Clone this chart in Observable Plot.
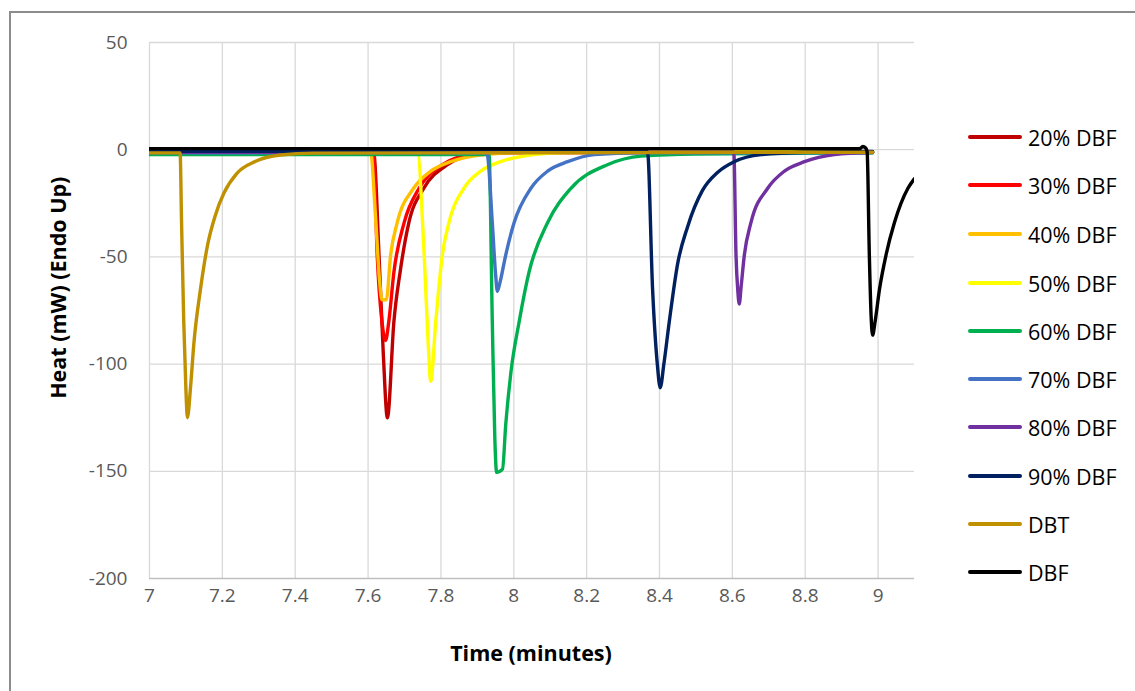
<!DOCTYPE html>
<html>
<head>
<meta charset="utf-8">
<script src="https://cdn.jsdelivr.net/npm/d3@7"></script>
<script src="https://cdn.jsdelivr.net/npm/@observablehq/plot@0.6"></script>
<style>
  html, body { margin: 0; padding: 0; background: #fff; }
  #wrap { position: relative; width: 1135px; height: 691px; overflow: hidden; font-family: "Open Sans", Lato, sans-serif; }
  #frame { position: absolute; left: 9px; top: 11px; width: 1200px; height: 800px; border-left: 2px solid #8c8c8c; border-top: 2px solid #8c8c8c; box-sizing: border-box; pointer-events: none; }
  #legend { position: absolute; left: 968px; top: 0; }
  .li { position: absolute; left: 0; display: flex; align-items: center; white-space: nowrap; font-size: 21.5px; color: #000; }
  .li span.sw { display: inline-block; width: 54px; height: 3.5px; border-radius: 2px; margin-right: 6px; }
  .axt { position: absolute; font-weight: bold; font-size: 21.5px; color: #000; white-space: nowrap; line-height: 1; }
</style>
</head>
<body>
<div id="wrap">
  <div id="chart"></div>
  <div id="frame"></div>
  <div id="legend"></div>
  <div class="axt" id="xt">Time (minutes)</div>
  <div class="axt" id="yt">Heat (mW) (Endo Up)</div>
</div>
<script>
// ---- data ----
const seriesNames = ["20% DBF", "30% DBF", "40% DBF", "50% DBF", "60% DBF", "70% DBF", "80% DBF", "90% DBF", "DBT", "DBF"];
const seriesColors = ["#C00000", "#FF0000", "#FFC000", "#FFFF00", "#00B050", "#4472C4", "#7030A0", "#002060", "#BF9000", "#000000"];

const t20 = [7.00, 7.615, 7.63, 7.642, 7.653, 7.671, 7.688, 7.712, 7.753, 7.818, 7.89, 8.00, 8.985];
const v20 = [-1.2, -1.2, -49, -96, -125, -80, -57, -34, -18, -7, -2.3, -1.3, -1.2];

const t30 = [7.00, 7.615, 7.625, 7.638, 7.648, 7.657, 7.671, 7.699, 7.74, 7.804, 7.882, 8.00, 8.985];
const v30 = [-1.3, -1.3, -49, -80, -89, -80, -57, -34, -18, -7, -2.3, -1.3, -1.3];

const t40 = [7.00, 7.607, 7.62, 7.632, 7.638, 7.65, 7.662, 7.68, 7.725, 7.772, 7.827, 7.918, 8.05, 8.985];
const v40 = [-1.0, -1.0, -30, -62, -70, -70, -49, -34, -18, -10, -5.6, -2.3, -1.2, -1.0];

const t50 = [7.00, 7.735, 7.754, 7.765, 7.772, 7.786, 7.804, 7.822, 7.863, 7.909, 7.964, 8.055, 8.15, 8.985];
const v50 = [-1.0, -1.0, -49, -90, -108, -80, -49, -34, -18, -10, -5.6, -2.3, -1.3, -1.0];

const t60 = [7.00, 7.932, 7.941, 7.948, 7.953, 7.969, 7.978, 7.992, 8.015, 8.042, 8.093, 8.157, 8.257, 8.35, 8.50, 8.985];
const v60 = [-2.3, -2.3, -80, -135, -150.5, -149, -128, -104, -80, -57, -34, -18, -7, -3, -2, -1.5];

const t70 = [7.00, 7.926, 7.941, 7.95, 7.955, 7.962, 7.978, 8.001, 8.047, 8.093, 8.148, 8.221, 8.35, 8.985];
const v70 = [-1.5, -1.5, -34, -58, -66, -62, -49, -34, -18, -10, -5.6, -2.3, -1.5, -1.3];

const t80 = [7.00, 8.604, 8.61, 8.615, 8.619, 8.624, 8.633, 8.651, 8.697, 8.743, 8.798, 8.88, 8.985];
const v80 = [-1.2, -1.2, -49, -66, -72, -64, -49, -34, -18, -10, -5.6, -2.3, -1.2];

const t90 = [7.00, 8.367, 8.381, 8.394, 8.402, 8.412, 8.427, 8.45, 8.477, 8.518, 8.56, 8.605, 8.679, 8.80, 8.985];
const v90 = [-0.8, -0.8, -65, -100, -111, -100, -80, -53, -36, -19, -10.5, -5.6, -2.3, -1.2, -0.8];

const tDBT = [7.00, 7.084, 7.088, 7.094, 7.100, 7.104, 7.113, 7.122, 7.14, 7.16, 7.18, 7.205, 7.24, 7.29, 7.36, 7.45, 8.985];
const vDBT = [-1.5, -1.5, -34, -80, -112, -125, -110, -90, -65, -44, -31, -20, -11, -5.5, -2.5, -1.6, -1.2];

const tDBF = [7.00, 8.95, 8.958, 8.966, 8.97, 8.976, 8.981, 8.985, 8.992, 9.004, 9.022, 9.045, 9.082, 9.10];
const vDBF = [0.5, 0.5, 1.5, 0.8, -1, -49, -78, -86.5, -80, -65, -49, -34, -18, -13.5];

const xTicks = [7, 7.2, 7.4, 7.6, 7.8, 8, 8.2, 8.4, 8.6, 8.8, 9];
const yTicks = [-200, -150, -100, -50, 0, 50];

// ---- build table ----
const tList = [t20, t30, t40, t50, t60, t70, t80, t90, tDBT, tDBF];
const vList = [v20, v30, v40, v50, v60, v70, v80, v90, vDBT, vDBF];
const rows = [];
seriesNames.forEach((name, i) => {
  tList[i].forEach((t, j) => rows.push({series: name, t, v: vList[i][j]}));
});

const W = 1135, H = 691;
const mL = 149, mR = 221, mT = 42, mB = 113;

const chart = Plot.plot({
  width: W,
  height: H,
  marginLeft: mL,
  marginRight: mR,
  marginTop: mT,
  marginBottom: mB,
  style: {background: "transparent", fontFamily: "'Open Sans', Lato, sans-serif", overflow: "visible"},
  x: {domain: [7, 9.1], label: null},
  y: {domain: [-200, 50], label: null},
  color: {domain: seriesNames, range: seriesColors},
  marks: [
    Plot.gridX(xTicks, {stroke: "#d9d9d9", strokeOpacity: 1, strokeWidth: 1.3}),
    Plot.gridY(yTicks.filter(d => d > -200), {stroke: "#d9d9d9", strokeOpacity: 1, strokeWidth: 1.3}),
    Plot.ruleY([-200], {stroke: "#bfbfbf", strokeWidth: 1.3}),
    Plot.axisX({ticks: xTicks, tickSize: 0, tickPadding: 10, fontSize: 19, fill: "#595959", label: null,
      tickFormat: d => String(+d.toFixed(1))}),
    Plot.axisY({ticks: yTicks, tickSize: 0, tickPadding: 22, fontSize: 19, fill: "#595959", label: null,
      tickFormat: d => String(d)}),
    Plot.line(rows, {x: "t", y: "v", z: "series", stroke: "series", strokeWidth: 3.4, curve: "monotone-x", clip: true})
  ]
});
document.getElementById("chart").appendChild(chart);

// legend
const leg = document.getElementById("legend");
const legTop = [137, 185, 234, 283, 331, 379, 427, 476, 524, 572];
seriesNames.forEach((name, i) => {
  const d = document.createElement("div");
  d.className = "li";
  d.style.top = (legTop[i] - 13) + "px";
  d.style.height = "26px";
  d.innerHTML = `<span class="sw" style="background:${seriesColors[i]}"></span>${name}`;
  leg.appendChild(d);
});

// axis titles
const xt = document.getElementById("xt");
const xr = xt.getBoundingClientRect();
xt.style.left = (531 - xr.width / 2) + "px";
xt.style.top = (653 - xr.height / 2) + "px";
const yt = document.getElementById("yt");
const yr = yt.getBoundingClientRect();
yt.style.left = (58 - yr.width / 2) + "px";
yt.style.top = (288 - yr.height / 2) + "px";
yt.style.transform = "rotate(-90deg)";
</script>
</body>
</html>
